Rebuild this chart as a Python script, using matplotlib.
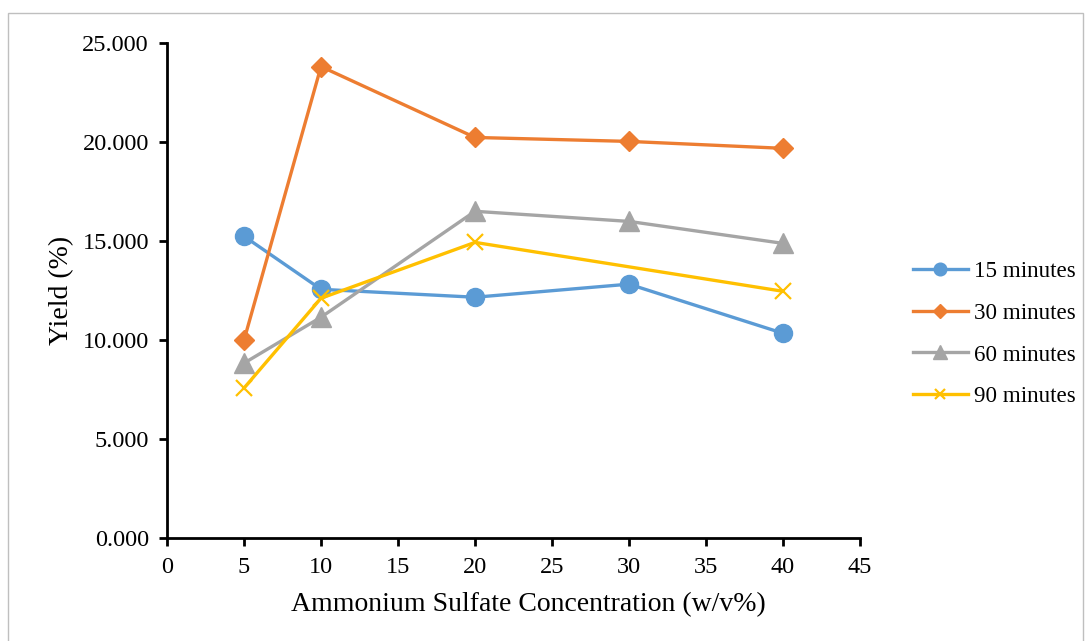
import matplotlib
matplotlib.use("Agg")
import matplotlib.pyplot as plt
from matplotlib.patches import Rectangle

plt.rcParams['font.family'] = ['Liberation Serif', 'DejaVu Serif']

# Ammonium sulfate concentration (w/v%)
conc = [5, 10, 20, 30, 40]
conc_90 = [5, 10, 20, 40]

# Yield (%) per precipitation time
yield_15 = [15.24, 12.56, 12.16, 12.82, 10.34]
yield_30 = [9.99, 23.81, 20.23, 20.03, 19.68]
yield_60 = [8.83, 11.15, 16.50, 15.99, 14.88]
yield_90 = [7.57, 12.11, 14.93, 12.46]

labels = ["15 minutes", "30 minutes", "60 minutes", "90 minutes"]
colors = ["#5B9BD5", "#ED7D31", "#A5A5A5", "#FFC000"]

fig = plt.figure(figsize=(10.91, 6.41), dpi=100)
ax = fig.add_axes([167 / 1091, 1 - 538 / 641, (860 - 167) / 1091, (538 - 43) / 641])

# chart area border
fig.patches.append(Rectangle((8 / 1091, -0.05), (1083 - 8) / 1091, 1 - 13 / 641 + 0.05,
                             transform=fig.transFigure, fill=False,
                             edgecolor="#BFBFBF", linewidth=1.0))

lw = 2.4
ax.plot(conc, yield_15, color=colors[0], lw=lw, marker='o', markersize=13,
        label=labels[0])
ax.plot(conc, yield_30, color=colors[1], lw=lw, marker='D', markersize=10,
        label=labels[1])
ax.plot(conc, yield_60, color=colors[2], lw=lw, marker='^', markersize=14,
        label=labels[2])
ax.plot(conc_90, yield_90, color=colors[3], lw=lw, marker='x', markersize=11,
        markeredgewidth=1.6, label=labels[3])

ax.set_xlim(0, 45)
ax.set_ylim(0, 25)
ax.set_xticks(range(0, 46, 5))
ax.set_yticks([0, 5, 10, 15, 20, 25])
ax.set_yticklabels([f"{v:.3f}" for v in [0, 5, 10, 15, 20, 25]])

for side in ["top", "right"]:
    ax.spines[side].set_visible(False)
for side in ["left", "bottom"]:
    ax.spines[side].set_linewidth(2.0)
    ax.spines[side].set_color("black")

ax.tick_params(axis='both', direction='out', length=6, width=2.0,
               labelsize=17.5, colors='black')
ax.tick_params(axis='y', pad=7)
ax.tick_params(axis='x', pad=8)

ax.set_xlabel("Ammonium Sulfate Concentration (w/v%)", fontsize=20, labelpad=10)
ax.xaxis.label.set_x((528 - 167) / 693)
ax.set_ylabel("Yield (%)", fontsize=20, labelpad=6)

leg = ax.legend(loc='center left', bbox_to_anchor=(892 / 1091, 1 - 334 / 641),
                bbox_transform=fig.transFigure, frameon=False, fontsize=16.6,
                handlelength=2.4, labelspacing=0.9, handletextpad=0.26,
                markerscale=0.7)

fig.savefig("out.png", dpi=100)
